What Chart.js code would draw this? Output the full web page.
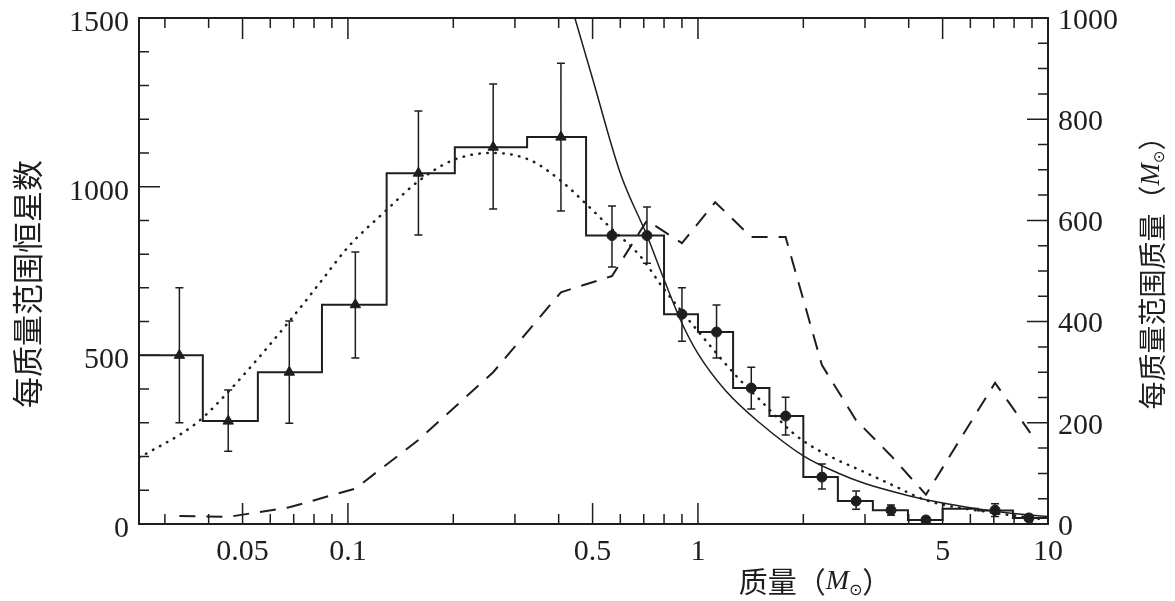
<!DOCTYPE html>
<html>
<head>
<meta charset="utf-8">
<script src="https://cdn.jsdelivr.net/npm/chart.js@4"></script>
<style>
html, body { margin: 0; padding: 0; background: #fff; }
</style>
</head>
<body>
<canvas id="myChart" width="1175" height="601"></canvas>
<script>
// histogram: bin edges (mass) and star count in each bin
const binEdges = [0.0253, 0.0385, 0.0553, 0.0843, 0.129, 0.202, 0.325, 0.479, 0.63, 0.80, 1.0, 1.26, 1.60, 2.0, 2.51, 3.16, 3.98, 5.0, 6.3, 7.94, 10];
const binCounts = [500, 305, 450, 650, 1040, 1117, 1147, 855, 855, 622, 569, 403, 320, 139, 68, 41, 12, 45, 40, 18];

// measured points with error bars
const ptMass = [0.033, 0.0455, 0.068, 0.105, 0.159, 0.26, 0.406, 0.568, 0.715, 0.90, 1.13, 1.42, 1.78, 2.26, 2.83, 3.56, 4.48, 7.06, 8.82];
const ptCount = [500, 305, 450, 650, 1040, 1117, 1147, 855, 855, 622, 569, 403, 320, 139, 68, 41, 12, 41, 18];
const ptLow = [300, 216, 299, 492, 857, 934, 928, 762, 773, 542, 492, 341, 264, 104, 44, 26, 5, 22, 8];
const ptHigh = [700, 397, 602, 806, 1224, 1304, 1366, 943, 940, 700, 649, 465, 376, 178, 98, 56, 20, 60, 28];

// solid curve
const solidMass = [0.445, 0.5, 0.6, 0.715, 0.8, 0.9, 1.0, 1.2, 1.5, 2.0, 2.5, 3.0, 4.0, 5.0, 7.0, 10];
const solidCount = [1500, 1320, 1040, 855, 725, 595, 505, 395, 300, 202, 152, 120, 84, 62, 38, 22];

// dotted curve
const dotMass = [0.0253, 0.037, 0.046, 0.0685, 0.0843, 0.0995, 0.129, 0.158, 0.2, 0.26, 0.331, 0.403, 0.48, 0.56, 0.683, 0.795, 0.967, 1.318, 1.503, 1.868, 2.13, 2.5, 2.9, 3.6, 4.5, 7.0, 9.5];
const dotCount = [196, 300, 397, 605, 723, 818, 931, 1014, 1079, 1100, 1079, 1020, 948, 880, 795, 700, 590, 427, 368, 270, 228, 190, 160, 115, 70, 33, 15];

// dashed curve: mass per mass range (right axis)
const dashMass = [0.033, 0.0455, 0.068, 0.105, 0.159, 0.26, 0.406, 0.568, 0.715, 0.90, 1.12, 1.42, 1.78, 2.26, 2.83, 3.56, 4.48, 7.06, 8.9];
const dashValue = [16, 14, 33, 70, 166, 300, 458, 490, 600, 555, 636, 567, 567, 314, 205, 135, 58, 279, 180];

const xTicks = [0.05, 0.1, 0.5, 1, 5, 10];
const xMinor = [0.03, 0.04, 0.06, 0.07, 0.08, 0.09, 0.2, 0.3, 0.4, 0.6, 0.7, 0.8, 0.9, 2, 3, 4, 6, 7, 8, 9];

const ink = '#1e1e1e';
const serif = '"Liberation Serif", "DejaVu Serif", serif';
const cjk = '"Noto Sans CJK SC", sans-serif';

const pairs = (xs, ys) => xs.map((x, i) => ({ x: x, y: ys[i] }));
const histData = binCounts.map((c, i) => ({ x: binEdges[i], y: c }));
histData.push({ x: binEdges[binEdges.length - 1], y: binCounts[binCounts.length - 1] });

// frame, inward ticks and error bars
const framePlugin = {
  id: 'frame',
  afterDatasetsDraw(chart) {
    const { ctx, chartArea: a, scales } = chart;
    ctx.save();
    ctx.strokeStyle = ink;
    ctx.lineWidth = 1.5;
    ctx.beginPath();
    xTicks.concat(xMinor).forEach(v => {
      if (v >= 10) return;
      const len = xTicks.includes(v) ? 21 : 10;
      const x = scales.x.getPixelForValue(v);
      ctx.moveTo(x, a.bottom); ctx.lineTo(x, a.bottom - len);
      ctx.moveTo(x, a.top); ctx.lineTo(x, a.top + len);
    });
    for (let v = 100; v < 1500; v += 100) {
      const y = scales.y.getPixelForValue(v);
      const len = v % 500 === 0 ? 21 : 10;
      ctx.moveTo(a.left, y); ctx.lineTo(a.left + len, y);
    }
    for (let v = 50; v < 1000; v += 50) {
      const y = scales.y2.getPixelForValue(v);
      const len = v % 200 === 0 ? 21 : 10;
      ctx.moveTo(a.right, y); ctx.lineTo(a.right - len, y);
    }
    // error bars
    ptMass.forEach((m, i) => {
      const x = scales.x.getPixelForValue(m);
      const y1 = scales.y.getPixelForValue(ptLow[i]);
      const y2 = scales.y.getPixelForValue(ptHigh[i]);
      ctx.moveTo(x, y1); ctx.lineTo(x, y2);
      ctx.moveTo(x - 4, y1); ctx.lineTo(x + 4, y1);
      ctx.moveTo(x - 4, y2); ctx.lineTo(x + 4, y2);
    });
    ctx.stroke();
    ctx.lineWidth = 2;
    ctx.strokeRect(a.left, a.top, a.right - a.left, a.bottom - a.top);
    ctx.restore();
  }
};

function drawParts(ctx, parts, cx, cy) {
  let total = 0;
  parts.forEach(p => { ctx.font = p.font; p.w = ctx.measureText(p.text).width; total += p.w; });
  let x = cx - total / 2;
  parts.forEach(p => {
    ctx.font = p.font;
    ctx.fillText(p.text, x, cy + (p.dy || 0));
    x += p.w;
  });
}

const titlePlugin = {
  id: 'titles',
  afterDraw(chart) {
    const ctx = chart.ctx;
    ctx.save();
    ctx.fillStyle = ink;
    ctx.textBaseline = 'middle';
    ctx.textAlign = 'left';
    const msun = size => [
      { text: '（', font: size + 'px ' + cjk },
      { text: 'M', font: 'italic ' + (size - 1) + 'px ' + serif },
      { text: '⊙', font: Math.round(size * 0.55) + 'px "DejaVu Sans"', dy: size * 0.3 },
      { text: '）', font: size + 'px ' + cjk }
    ];
    drawParts(ctx, [{ text: '质量', font: '29px ' + cjk }].concat(msun(29)), 815, 582);

    ctx.save();
    ctx.translate(27, 284);
    ctx.rotate(-Math.PI / 2);
    drawParts(ctx, [{ text: '每质量范围恒星数', font: '31px ' + cjk }], 0, 0);
    ctx.restore();

    ctx.save();
    ctx.translate(1152, 266);
    ctx.rotate(-Math.PI / 2);
    drawParts(ctx, [{ text: '每质量范围质量', font: '28px ' + cjk }].concat(msun(28)), 0, 0);
    ctx.restore();
    ctx.restore();
  }
};

const tickFont = { family: serif, size: 30 };
const noPad = s => { s.paddingTop = 0; s.paddingBottom = 0; s.paddingLeft = 0; s.paddingRight = 0; };

new Chart(document.getElementById('myChart').getContext('2d'), {
  type: 'scatter',
  data: {
    datasets: [
      {
        label: 'points',
        data: pairs(ptMass, ptCount),
        pointStyle: ptMass.map((m, i) => i < 7 ? 'triangle' : 'circle'),
        pointRadius: ptMass.map((m, i) => i < 7 ? 6 : 5),
        backgroundColor: ink,
        borderColor: ink,
        borderWidth: 1,
        showLine: false
      },
      {
        label: 'histogram',
        data: histData,
        showLine: true,
        stepped: true,
        borderColor: ink,
        borderWidth: 2,
        pointRadius: 0
      },
      {
        label: 'solid',
        data: pairs(solidMass, solidCount),
        showLine: true,
        cubicInterpolationMode: 'monotone',
        borderColor: ink,
        borderWidth: 1.5,
        pointRadius: 0
      },
      {
        label: 'dotted',
        data: pairs(dotMass, dotCount),
        showLine: true,
        cubicInterpolationMode: 'monotone',
        borderColor: ink,
        borderWidth: 2.5,
        borderDash: [0.5, 7.5],
        borderCapStyle: 'round',
        pointRadius: 0
      },
      {
        label: 'dashed',
        data: pairs(dashMass, dashValue),
        yAxisID: 'y2',
        showLine: true,
        tension: 0,
        borderColor: ink,
        borderWidth: 2,
        borderDash: [16, 11],
        pointRadius: 0
      }
    ]
  },
  options: {
    responsive: false,
    animation: false,
    devicePixelRatio: 1,
    layout: { padding: { top: 18 } },
    plugins: { legend: { display: false }, tooltip: { enabled: false } },
    scales: {
      x: {
        type: 'logarithmic',
        min: 0.0253,
        max: 10,
        afterFit: s => { s.height = 77; noPad(s); },
        afterBuildTicks: s => { s.ticks = xTicks.map(v => ({ value: v })); },
        grid: { display: false, drawTicks: false },
        border: { display: false },
        ticks: { color: ink, font: tickFont, padding: 10, maxRotation: 0, autoSkip: false, callback: v => String(v) }
      },
      y: {
        position: 'left',
        min: 0,
        max: 1500,
        afterFit: s => { s.width = 139; noPad(s); },
        grid: { display: false, drawTicks: false },
        border: { display: false },
        ticks: { color: ink, font: tickFont, padding: 10, stepSize: 500, labelOffset: 5, callback: v => String(v) }
      },
      y2: {
        position: 'right',
        min: 0,
        max: 1000,
        afterFit: s => { s.width = 127; noPad(s); },
        grid: { display: false, drawTicks: false },
        border: { display: false },
        ticks: { color: ink, font: tickFont, padding: 10, stepSize: 200, labelOffset: 3, callback: v => String(v) }
      }
    }
  },
  plugins: [framePlugin, titlePlugin]
});
</script>
</body>
</html>
